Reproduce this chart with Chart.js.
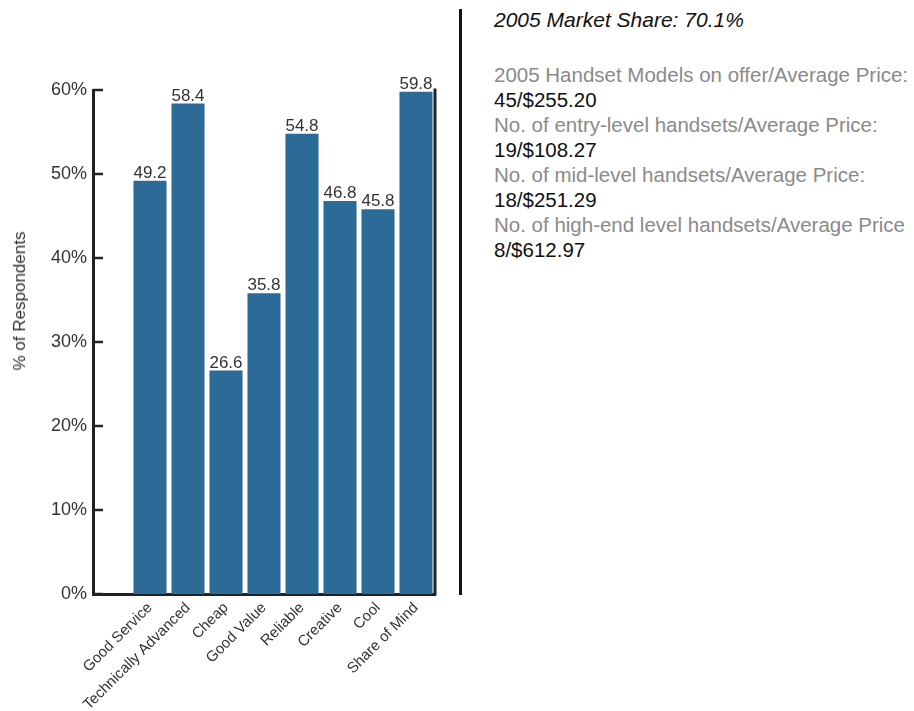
<!DOCTYPE html>
<html lang="en">
<head>
  <meta charset="UTF-8" />
  <title>Brand Perception</title>
  <style>
    body {
      margin: 0;
      background: #fff;
      font-family: 'Liberation Sans Narrow', 'Liberation Sans', Arial, sans-serif;
    }
    #wrap {
      position: relative;
      width: 914px;
      height: 711px;
    }
    #chartBox {
      position: absolute;
      left: 0;
      top: 0;
      width: 460px;
      height: 711px;
    }
    #yTitle {
      position: absolute;
      left: 20px;
      top: 301px;
      transform: translate(-50%, -50%) rotate(-90deg);
      white-space: nowrap;
      font-size: 17px;
      color: #333;
    }
    #divider {
      position: absolute;
      left: 459px;
      top: 9px;
      width: 3px;
      height: 586px;
      background: #111;
    }
    #side {
      position: absolute;
      left: 494px;
      top: 7px;
      font-size: 20.5px;
      line-height: 25px;
      white-space: nowrap;
    }
    #side .head { font-style: italic; font-size: 21px; color: #111; margin-bottom: 30px; }
    #side .q { color: #8a8a8a; }
    #side .a { color: #111; }
  </style>
  <script src="https://cdn.jsdelivr.net/npm/chart.js"></script>
</head>
<body>
  <div id="wrap">
    <div id="chartBox"><canvas id="perception"></canvas></div>
    <div id="yTitle">% of Respondents</div>
    <div id="divider"></div>
    <div id="side"></div>
  </div>

  <script>
    const categories = ['Good Service', 'Technically Advanced', 'Cheap', 'Good Value',
                        'Reliable', 'Creative', 'Cool', 'Share of Mind'];
    const respondents = [49.2, 58.4, 26.6, 35.8, 54.8, 46.8, 45.8, 59.8];
    const yTicks = [0, 10, 20, 30, 40, 50, 60];

    const marketShare = '2005 Market Share: 70.1%';
    const sideQuestions = [
      '2005 Handset Models on offer/Average Price:',
      'No. of entry-level handsets/Average Price:',
      'No. of mid-level handsets/Average Price:',
      'No. of high-end level handsets/Average Price'
    ];
    const sideAnswers = ['45/$255.20', '19/$108.27', '18/$251.29', '8/$612.97'];

    const FONT = "'Liberation Sans Narrow', 'Liberation Sans', Arial, sans-serif";
    const BAR = '#2c6a97';

    // side panel text
    const side = document.getElementById('side');
    let html = `<div class="head">${marketShare}</div>`;
    sideQuestions.forEach((q, i) => {
      html += `<div class="q">${q}</div><div class="a">${sideAnswers[i]}</div>`;
    });
    side.innerHTML = html;

    // leave an empty slot at the left of the axis
    const labels = [''].concat(categories);
    const values = [null].concat(respondents);

    // value labels above each bar, inward tick marks and the right frame line
    const extras = {
      id: 'extras',
      afterDatasetsDraw(chart) {
        const ctx = chart.ctx;
        const area = chart.chartArea;
        const y = chart.scales.y;
        ctx.save();

        ctx.strokeStyle = '#222';
        ctx.lineWidth = 3;
        ctx.beginPath();
        ctx.moveTo(area.right, y.getPixelForValue(60) - 1.5);
        ctx.lineTo(area.right, area.bottom + 1.5);
        ctx.stroke();

        ctx.lineWidth = 2.5;
        yTicks.forEach(v => {
          const py = y.getPixelForValue(v);
          ctx.beginPath();
          ctx.moveTo(area.left, py);
          ctx.lineTo(area.left + 10, py);
          ctx.stroke();
        });

        ctx.fillStyle = '#333';
        ctx.font = '17px ' + FONT;
        ctx.textAlign = 'center';
        ctx.textBaseline = 'bottom';
        chart.getDatasetMeta(0).data.forEach((bar, i) => {
          if (values[i] == null) return;
          ctx.fillText(values[i].toFixed(1), bar.x, bar.y + 1);
        });
        ctx.restore();
      }
    };

    new Chart(document.getElementById('perception'), {
      type: 'bar',
      data: {
        labels: labels,
        datasets: [{
          data: values,
          backgroundColor: BAR,
          borderWidth: 0,
          categoryPercentage: 1,
          barPercentage: 0.87
        }]
      },
      options: {
        responsive: true,
        maintainAspectRatio: false,
        animation: false,
        layout: { padding: { top: 90, right: 25, left: 0, bottom: 0 } },
        plugins: {
          legend: { display: false },
          tooltip: { enabled: false }
        },
        scales: {
          x: {
            grid: { display: false, drawTicks: false },
            border: { color: '#222', width: 3 },
            ticks: {
              color: '#333',
              font: { family: FONT, size: 15 },
              minRotation: 45,
              maxRotation: 45,
              autoSkip: false,
              padding: 5
            },
            afterFit(scale) { scale.height = 117; }
          },
          y: {
            min: 0,
            max: 60,
            grid: { display: false, drawTicks: false },
            border: { color: '#222', width: 3 },
            afterBuildTicks(scale) { scale.ticks = yTicks.map(v => ({ value: v })); },
            ticks: {
              color: '#333',
              font: { family: FONT, size: 18 },
              padding: 6,
              callback: v => v + '%'
            },
            afterFit(scale) { scale.width = 93; }
          }
        }
      },
      plugins: [extras]
    });
  </script>
</body>
</html>
